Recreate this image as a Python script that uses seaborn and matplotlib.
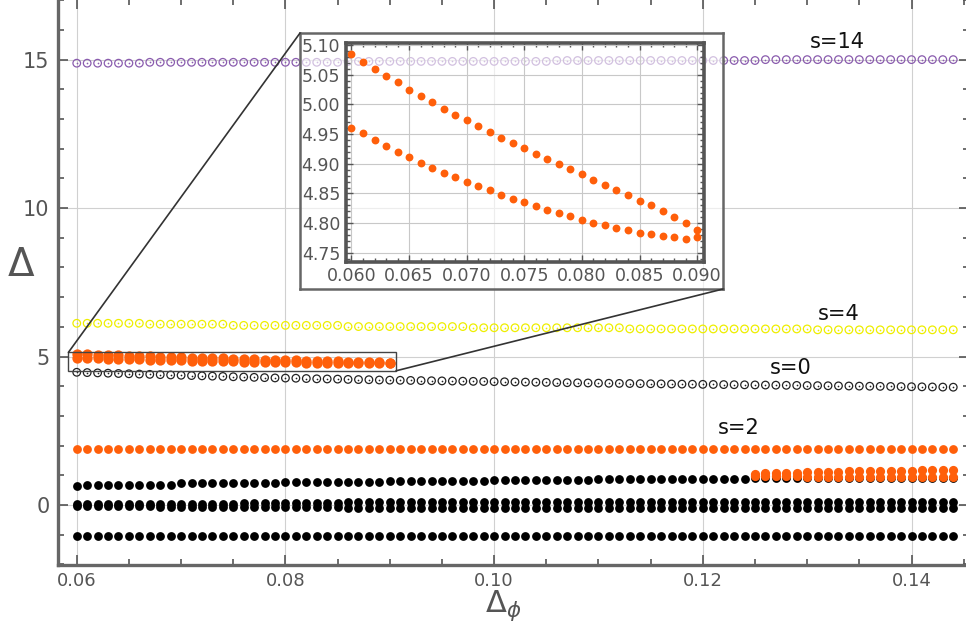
import numpy as np
import pandas as pd
import matplotlib
matplotlib.use("Agg")
import matplotlib.pyplot as plt
from matplotlib.patches import Rectangle, ConnectionPatch
from matplotlib.ticker import MultipleLocator, FormatStrFormatter
import seaborn as sns

# scan grid in Delta_phi
dphi = np.round(np.arange(60, 145) / 1000, 3)
dphi_zoom = dphi[:31]
dphi_tail = dphi[65:]

# open-circle families (s labels)
s14 = [14.88] * 7 + [14.91] * 19 + [14.94] * 20 + [14.97] * 20 + [15.00] * 19
s4 = [6.12] * 7 + [6.09] * 8 + [6.05] * 11 + [6.01] * 12 + [5.97] * 15 + [5.93] * 18 + [5.90] * 14
s0 = [4.47, 4.46, 4.45, 4.44, 4.43, 4.42, 4.41, 4.40, 4.39, 4.38,
      4.37, 4.36, 4.35, 4.34, 4.33, 4.32, 4.31, 4.30, 4.29, 4.28,
      4.275, 4.27, 4.26, 4.25, 4.245, 4.24, 4.23, 4.225, 4.22, 4.21, 4.205,
      4.20, 4.195, 4.19, 4.185, 4.18, 4.175, 4.17, 4.165, 4.16, 4.155,
      4.15, 4.145, 4.14, 4.135, 4.13, 4.125, 4.12, 4.115, 4.11, 4.105,
      4.10, 4.096, 4.092, 4.088, 4.084, 4.08, 4.076, 4.072, 4.068, 4.064,
      4.06, 4.056, 4.052, 4.048, 4.044, 4.04, 4.036, 4.032, 4.028, 4.024,
      4.02, 4.016, 4.012, 4.008, 4.004, 4.0, 3.996, 3.992, 3.988, 3.984,
      3.98, 3.976, 3.972, 3.968]

# filled orange: the pair near 5 (also shown in the inset)
orange_hi = [5.085, 5.072, 5.060, 5.048, 5.037, 5.025, 5.014, 5.004, 4.993, 4.983,
             4.973, 4.963, 4.954, 4.944, 4.935, 4.926, 4.917, 4.908, 4.899, 4.891,
             4.882, 4.873, 4.865, 4.856, 4.847, 4.838, 4.830, 4.821, 4.811, 4.801, 4.788]
orange_lo = [4.961, 4.951, 4.940, 4.930, 4.920, 4.911, 4.902, 4.893, 4.885, 4.877,
             4.869, 4.862, 4.855, 4.848, 4.841, 4.835, 4.829, 4.822, 4.817, 4.812,
             4.806, 4.801, 4.797, 4.792, 4.788, 4.784, 4.781, 4.778, 4.776, 4.774, 4.776]
orange_s2 = [1.89] * 85
orange_tail_hi = [1.06, 1.07, 1.08, 1.08, 1.09, 1.10, 1.11, 1.11, 1.12, 1.13,
                  1.13, 1.14, 1.15, 1.15, 1.16, 1.16, 1.17, 1.17, 1.18, 1.18]
orange_tail_lo = [0.98, 0.98, 0.97, 0.97, 0.97, 0.96, 0.96, 0.96, 0.95, 0.95,
                  0.95, 0.95, 0.94, 0.94, 0.94, 0.94, 0.93, 0.93, 0.93, 0.93]

# filled black
black_rise = [0.63] + [0.69] * 9 + [0.73] * 10 + [0.77] * 10 + [0.80] * 10 + [0.83] * 10 + [0.86] * 10 + [0.89] * 5 + [0.92] * 20
black_zero_hi = [0.035] * 8 + [0.05] * 8 + [0.07] * 10 + [0.09] * 59
black_zero_lo = [-0.035] * 8 + [-0.05] * 8 + [-0.07] * 10 + [-0.09] * 59
black_neg = [-1.06] * 85

ORANGE = "#ff5f0a"
YELLOW = "#eeee00"
PURPLE = "#8a5cae"
GREY = "#555555"

fig = plt.figure(figsize=(9.66, 6.25), dpi=100)
ax = fig.add_axes([0.060, 0.096, 0.943, 0.906])


def dots(axis, x, y, color, size=40):
    sns.scatterplot(x=x, y=y, ax=axis, color=color, s=size, linewidth=0, legend=False)


def rings(axis, x, y, color):
    sns.scatterplot(x=x, y=y, ax=axis, marker="o", s=30, facecolors="none",
                    edgecolor=color, linewidth=0.9, legend=False)
    sns.scatterplot(x=x, y=y, ax=axis, color=color, s=1.5, linewidth=0, legend=False)


rings(ax, dphi, s14, PURPLE)
rings(ax, dphi, s4, YELLOW)
rings(ax, dphi, s0, "#222222")

dots(ax, dphi, black_neg, "black")
dots(ax, dphi, black_zero_lo, "black")
dots(ax, dphi, black_zero_hi, "black")
dots(ax, dphi, black_rise, "black")
dots(ax, dphi, orange_s2, ORANGE)
dots(ax, dphi_tail, orange_tail_lo, ORANGE, 44)
dots(ax, dphi_tail, orange_tail_hi, ORANGE, 44)
dots(ax, dphi_zoom, orange_lo, ORANGE, 55)
dots(ax, dphi_zoom, orange_hi, ORANGE, 55)

ax.set_xlim(0.0582, 0.1455)
ax.set_ylim(-2.02, 17.05)
ax.xaxis.set_major_locator(MultipleLocator(0.02))
ax.xaxis.set_minor_locator(MultipleLocator(0.005))
ax.yaxis.set_major_locator(MultipleLocator(5))
ax.yaxis.set_minor_locator(MultipleLocator(1))
ax.xaxis.set_major_formatter(FormatStrFormatter("%.2f"))
ax.grid(True, which="major", color="#d0d0d0", lw=0.8)
ax.set_axisbelow(True)
ax.tick_params(which="both", direction="in", top=True, right=True, color=GREY,
               labelcolor=GREY, width=1.2)
ax.tick_params(which="major", length=7, labelsize=14, pad=6)
ax.tick_params(which="minor", length=4)
ax.tick_params(axis="x", which="major", labelsize=13, pad=5)
ax.tick_params(axis="y", which="major", labelsize=15)
for sp in ax.spines.values():
    sp.set_color("#666666")
    sp.set_linewidth(2.4)
ax.set_xlabel("")
ax.set_ylabel("")
fig.text(503 / 966, 1 - 606 / 625, r"$\Delta_\phi$", fontsize=22, color=GREY,
         ha="center", va="center")
fig.text(21 / 966, 1 - 265 / 625, r"$\Delta$", fontsize=28, color=GREY,
         ha="center", va="center")

for txt, x, y in [("s=14", 0.1329, 15.6), ("s=4", 0.1330, 6.44),
                  ("s=0", 0.1284, 4.62), ("s=2", 0.1234, 2.60)]:
    ax.text(x, y, txt, fontsize=15, color="#111111", ha="center", va="center")

# zoom box in the main plot
ax.add_patch(Rectangle((0.0592, 4.52), 0.0314, 0.62, fill=False, ec="#444444", lw=1.0, zorder=5))

# inset frame (semi transparent) and the inset axes
frame = fig.add_axes([0.3106, 0.5376, 0.4379, 0.4096])
frame.set_facecolor((1, 1, 1, 0.62))
frame.set_xticks([])
frame.set_yticks([])
for sp in frame.spines.values():
    sp.set_color("#666666")
    sp.set_linewidth(1.8)

for xa, ya, xb, yb in [(0.0592, 5.14, 0, 1), (0.0906, 4.52, 1, 0)]:
    con = ConnectionPatch(xyA=(xa, ya), coordsA=ax.transData, xyB=(xb, yb),
                          coordsB=frame.transAxes, color="#333333", lw=1.2)
    fig.add_artist(con)

ins = fig.add_axes([0.3579, 0.5813, 0.3709, 0.3504])
ins.set_facecolor("none")
dots(ins, dphi_zoom, orange_hi, ORANGE, 32)
dots(ins, dphi_zoom, orange_lo, ORANGE, 32)
ins.set_xlim(0.0595, 0.0906)
ins.set_ylim(4.735, 5.104)
ins.xaxis.set_major_locator(MultipleLocator(0.005))
ins.xaxis.set_minor_locator(MultipleLocator(0.001))
ins.yaxis.set_major_locator(MultipleLocator(0.05))
ins.yaxis.set_minor_locator(MultipleLocator(0.01))
ins.xaxis.set_major_formatter(FormatStrFormatter("%.3f"))
ins.yaxis.set_major_formatter(FormatStrFormatter("%.2f"))
ins.grid(True, which="major", color="#c8c8c8", lw=0.8)
ins.set_axisbelow(True)
ins.tick_params(which="both", direction="in", top=True, right=True, color=GREY,
                labelcolor=GREY, width=1.0)
ins.tick_params(which="major", length=5, labelsize=12.5, pad=4)
ins.tick_params(which="minor", length=3)
ins.set_xlabel("")
ins.set_ylabel("")
for sp in ins.spines.values():
    sp.set_color("#555555")
    sp.set_linewidth(2.6)

fig.savefig("out.png", dpi=100)
